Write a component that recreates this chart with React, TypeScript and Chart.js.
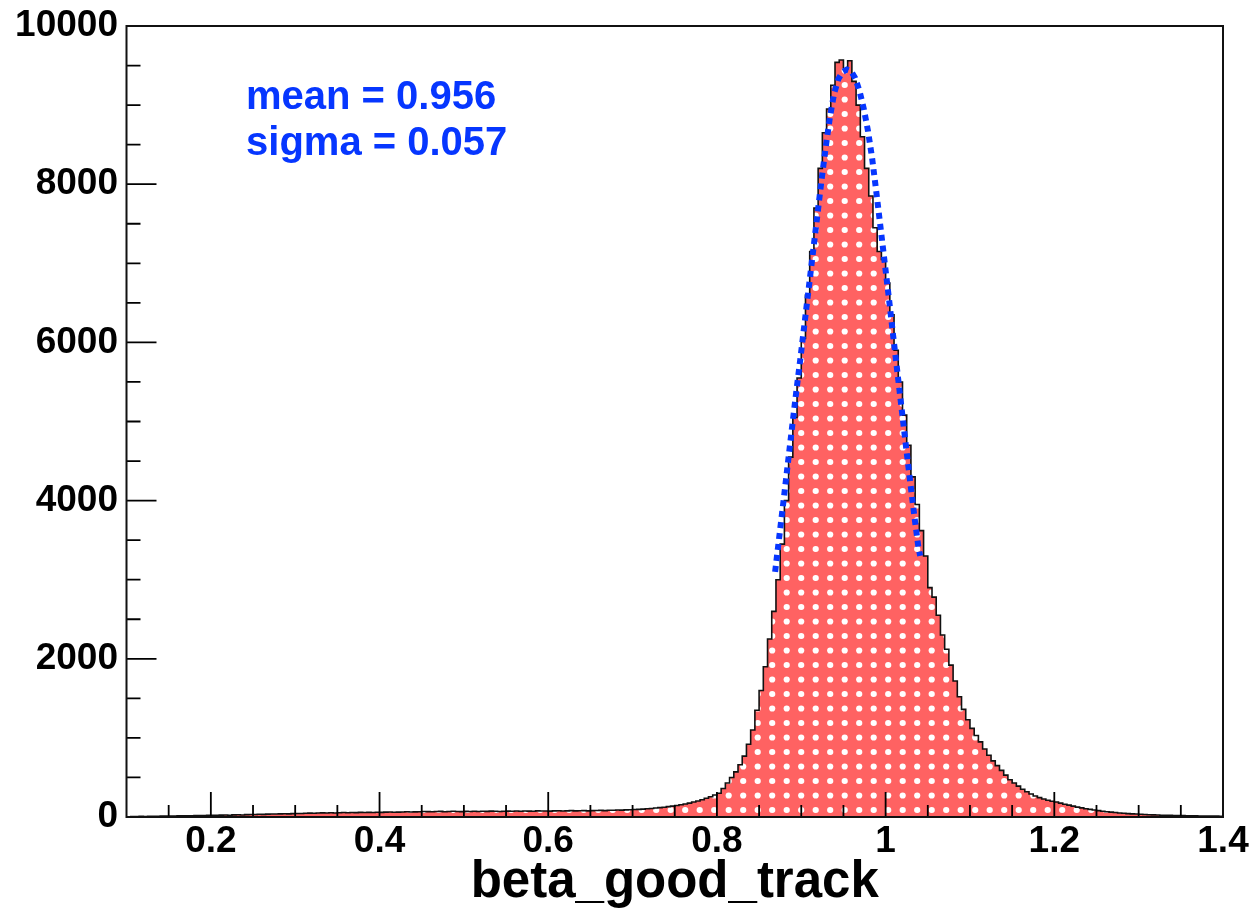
import React, { useEffect, useRef } from "react";
import { Chart, registerables } from "chart.js";

Chart.register(...registerables);

// ---- data ----
const binStart = 0.1;
const binWidth = 0.005;
const counts: number[] = [
  4, 6, 5, 8, 7, 9, 10, 8, 12, 11,
  13, 12, 15, 14, 16, 15, 18, 17, 19, 20,
  22, 21, 24, 25, 23, 27, 28, 26, 30, 31,
  32, 34, 33, 36, 38, 37, 40, 41, 39, 43,
  45, 44, 47, 49, 48, 50, 52, 51, 53, 50,
  54, 56, 53, 57, 55, 58, 56, 59, 57, 60,
  58, 61, 63, 60, 62, 64, 66, 63, 65, 67,
  70, 68, 66, 69, 71, 67, 70, 72, 69, 68,
  71, 69, 72, 70, 73, 71, 74, 72, 70, 73,
  74, 72, 75, 73, 76, 74, 72, 77, 75, 76,
  74, 77, 79, 76, 78, 80, 77, 79, 81, 78,
  80, 82, 84, 81, 85, 86, 88, 87, 90, 92,
  94, 97, 100, 104, 108, 113, 118, 124, 131, 138,
  146, 155, 165, 176, 189, 203, 219, 237, 256, 278,
  300, 360, 430, 500, 570, 660, 770, 920, 1100, 1350,
  1600, 1900, 2250, 2600, 3000, 3450, 4000, 4550, 5050, 5550,
  6050, 6600, 7150, 7700, 8200, 8650, 8950, 9250, 9540, 9570,
  9460, 9560, 9300, 9000, 8600, 8200, 7850, 7450, 7150, 7050,
  6750, 6350, 5900, 5500, 5080, 4700, 4300, 3950, 3620, 3300,
  2900, 2780, 2550, 2300, 2120, 1920, 1720, 1520, 1360, 1230,
  1120, 1030, 950, 860, 780, 710, 650, 590, 530, 470,
  430, 390, 350, 320, 290, 265, 245, 228, 212, 200,
  190, 175, 162, 150, 138, 125, 115, 105, 97, 88,
  80, 73, 67, 61, 56, 51, 47, 43, 40, 37,
  34, 31, 29, 27, 25, 23, 22, 20, 19, 18,
  17, 16, 15, 14, 13, 13, 12, 11, 11, 10,
];

// Gaussian fit curve
const fitX: number[] = [
  0.869, 0.874, 0.879, 0.884, 0.889, 0.894, 0.899, 0.904, 0.909, 0.914,
  0.919, 0.924, 0.929, 0.934, 0.939, 0.944, 0.949, 0.954, 0.959, 0.964,
  0.969, 0.974, 0.979, 0.984, 0.989, 0.994, 0.999, 1.004, 1.009, 1.014,
  1.019, 1.024, 1.029, 1.034, 1.039, 1.041,
];
const fitY: number[] = [
  3100, 3550, 4000, 4460, 4920, 5370, 5800, 6250, 6700, 7150,
  7600, 8050, 8470, 8850, 9150, 9330, 9420, 9450, 9430, 9340,
  9180, 8960, 8680, 8330, 7900, 7450, 7000, 6550, 6080, 5620,
  5160, 4700, 4250, 3810, 3400, 3300,
];

const xTickValues: number[] = [0.2, 0.4, 0.6, 0.8, 1.0, 1.2, 1.4];
const xMinorTickValues: number[] = [
  0.15, 0.25, 0.3, 0.35, 0.45, 0.5, 0.55, 0.65, 0.7, 0.75, 0.85, 0.9, 0.95,
  1.05, 1.1, 1.15, 1.25, 1.3, 1.35,
];
const yTickValues: number[] = [0, 2000, 4000, 6000, 8000, 10000];
const yMinorTickValues: number[] = [
  500, 1000, 1500, 2500, 3000, 3500, 4500, 5000, 5500, 6500, 7000, 7500,
  8500, 9000, 9500,
];
const xTitle = "beta_good_track";
const fitLabels: string[] = ["mean = 0.956", "sigma = 0.057"];

// ---- layout / style constants ----
const W = 1255;
const H = 910;
const FONT = "'Liberation Sans', Arial, Helvetica, sans-serif";
const RED = "#ff6262";
const BLUE = "#0636ff";
const annX = 0.2417;
const annY = [8955, 8365];

function makePattern(): CanvasPattern | string {
  const c = document.createElement("canvas");
  c.width = 29;
  c.height = 29;
  const g = c.getContext("2d");
  if (!g) return RED;
  g.fillStyle = RED;
  g.fillRect(0, 0, 29, 29);
  g.fillStyle = "#ffffff";
  const xs = [3.7, 18.2];
  const ys = [12.5, 27.0];
  for (const dx of xs)
    for (const dy of ys)
      for (const ox of [-29, 0, 29])
        for (const oy of [-29, 0, 29]) {
          g.beginPath();
          g.arc(dx + ox, dy + oy, 3.1, 0, Math.PI * 2);
          g.fill();
        }
  const p = g.createPattern(c, "repeat");
  return p || RED;
}

const rootFrame = {
  id: "rootFrame",
  afterDatasetsDraw(chart: any) {
    const { ctx, chartArea: a, scales } = chart;
    const xs = scales.x;
    const ys = scales.y;
    ctx.save();
    ctx.strokeStyle = "#000";
    ctx.lineWidth = 1.8;
    ctx.beginPath();
    for (const v of xTickValues) {
      const px = xs.getPixelForValue(v);
      ctx.moveTo(px, a.bottom);
      ctx.lineTo(px, a.bottom - 25);
    }
    for (const v of xMinorTickValues) {
      const px = xs.getPixelForValue(v);
      ctx.moveTo(px, a.bottom);
      ctx.lineTo(px, a.bottom - 12);
    }
    for (const v of yTickValues) {
      const py = ys.getPixelForValue(v);
      ctx.moveTo(a.left, py);
      ctx.lineTo(a.left + 30, py);
    }
    for (const v of yMinorTickValues) {
      const py = ys.getPixelForValue(v);
      ctx.moveTo(a.left, py);
      ctx.lineTo(a.left + 14, py);
    }
    ctx.stroke();
    ctx.lineWidth = 2;
    ctx.strokeStyle = "#111";
    ctx.strokeRect(a.left, a.top, a.right - a.left, a.bottom - a.top);

    ctx.fillStyle = BLUE;
    ctx.font = `bold 40px ${FONT}`;
    ctx.textAlign = "left";
    ctx.textBaseline = "alphabetic";
    fitLabels.forEach((t, i) => {
      ctx.fillText(t, xs.getPixelForValue(annX), ys.getPixelForValue(annY[i]));
    });
    ctx.restore();
  },
};

export default function App() {
  const ref = useRef<HTMLCanvasElement | null>(null);

  useEffect(() => {
    document.body.style.margin = "0";
    const canvas = ref.current;
    if (!canvas) return;

    const histPoints = counts.map((c, i) => ({ x: binStart + i * binWidth, y: c }));
    histPoints.push({ x: binStart + counts.length * binWidth, y: counts[counts.length - 1] });
    const fitPoints = fitX.map((x, i) => ({ x, y: fitY[i] }));

    const chart = new Chart(canvas, {
      type: "line",
      data: {
        datasets: [
          {
            data: fitPoints,
            borderColor: BLUE,
            borderWidth: 6,
            borderDash: [6, 5],
            borderCapStyle: "butt",
            pointRadius: 0,
            fill: false,
            tension: 0,
            order: 1,
          } as any,
          {
            data: histPoints,
            borderColor: "#111",
            borderWidth: 1.6,
            backgroundColor: makePattern() as any,
            fill: "origin",
            stepped: "before",
            pointRadius: 0,
            order: 2,
          } as any,
        ],
      },
      options: {
        animation: false,
        responsive: false,
        devicePixelRatio: 1,
        layout: { padding: { top: 26, right: 32, left: 0, bottom: 0 } },
        plugins: {
          legend: { display: false },
          tooltip: { enabled: false },
        },
        scales: {
          x: {
            type: "linear",
            min: 0.1,
            max: 1.4,
            afterBuildTicks: (s: any) => {
              s.ticks = xTickValues.map((v) => ({ value: v }));
            },
            afterFit: (s: any) => {
              s.height = 93;
              s.paddingLeft = 0;
              s.paddingRight = 0;
              s.paddingTop = 0;
              s.paddingBottom = 0;
            },
            grid: { display: false, drawTicks: false },
            border: { display: false },
            ticks: {
              autoSkip: false,
              maxRotation: 0,
              padding: 3,
              color: "#000",
              font: { family: FONT, size: 37, weight: "bold" },
              callback: (v: any) => String(Math.round(Number(v) * 10) / 10),
            },
            title: {
              display: true,
              text: xTitle,
              color: "#000",
              padding: { top: 0, bottom: -4 },
              font: { family: FONT, size: 51, weight: "bold" },
            },
          },
          y: {
            type: "linear",
            min: 0,
            max: 10000,
            afterBuildTicks: (s: any) => {
              s.ticks = yTickValues.map((v) => ({ value: v }));
            },
            afterFit: (s: any) => {
              s.width = 126.5;
              s.paddingLeft = 0;
              s.paddingRight = 0;
              s.paddingTop = 0;
              s.paddingBottom = 0;
            },
            grid: { display: false, drawTicks: false },
            border: { display: false },
            ticks: {
              autoSkip: false,
              padding: 8.5,
              color: "#000",
              font: { family: FONT, size: 37, weight: "bold" },
              callback: (v: any) => String(v),
            },
          },
        },
      },
      plugins: [rootFrame],
    });
    return () => chart.destroy();
  }, []);

  return (
    <div style={{ width: W, height: H, background: "#fff" }}>
      <canvas ref={ref} width={W} height={H} style={{ display: "block", width: W, height: H }} />
    </div>
  );
}
